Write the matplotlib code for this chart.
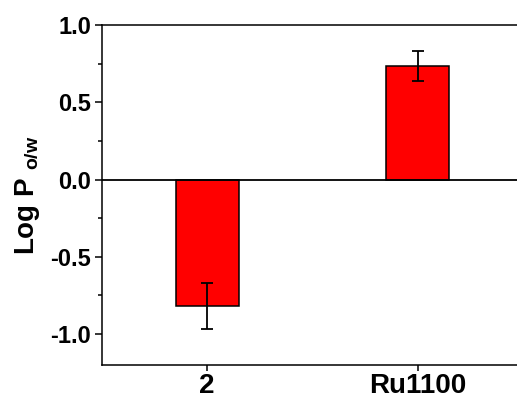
import matplotlib
matplotlib.use("Agg")
import matplotlib.pyplot as plt
from matplotlib.ticker import MultipleLocator

categories = ["2", "Ru1100"]
log_p = [-0.82, 0.735]
errors = [0.15, 0.097]

plt.rcParams["font.family"] = ["Liberation Sans", "DejaVu Sans"]
plt.rcParams["font.weight"] = "bold"
plt.rcParams["mathtext.fontset"] = "custom"
plt.rcParams["mathtext.rm"] = "Liberation Sans:bold"
plt.rcParams["mathtext.it"] = "Liberation Sans:bold"
plt.rcParams["mathtext.bf"] = "Liberation Sans:bold"

fig = plt.figure(figsize=(5.17, 4.03), dpi=100)
ax = fig.add_axes([102 / 517, 38 / 403, 421 / 517, 340 / 403])

positions = list(range(1, len(categories) + 1))
ax.bar(
    positions,
    log_p,
    width=0.3,
    color="#ff0000",
    edgecolor="black",
    linewidth=1.1,
    zorder=2,
)
ax.errorbar(
    positions,
    log_p,
    yerr=errors,
    fmt="none",
    ecolor="black",
    elinewidth=1.3,
    capsize=4,
    capthick=1.3,
    zorder=3,
)
ax.axhline(0, color="black", linewidth=1.3, zorder=4)

ax.set_xlim(0.5, 2.5)
ax.set_ylim(-1.2, 1.0)
ax.set_xticks(positions)
ax.set_xticklabels(categories, fontsize=20, fontweight="bold")
ax.yaxis.set_minor_locator(MultipleLocator(0.25))
ax.set_yticks([-1.0, -0.5, 0.0, 0.5, 1.0])
ax.set_yticklabels(["-1.0", "-0.5", "0.0", "0.5", "1.0"])
ax.tick_params(axis="y", which="major", direction="out", length=5, width=1.1,
               labelsize=17, pad=3)
ax.tick_params(axis="y", which="minor", direction="out", length=3, width=1.1)
ax.tick_params(axis="x", direction="out", length=4, width=1.1, pad=2)

for side in ["left", "bottom", "top", "right"]:
    ax.spines[side].set_linewidth(1.1)

ax.set_ylabel(r"Log P $_{\mathrm{o/w}}$", fontsize=20, fontweight="bold", labelpad=6)

fig.savefig("out.png", dpi=100)
